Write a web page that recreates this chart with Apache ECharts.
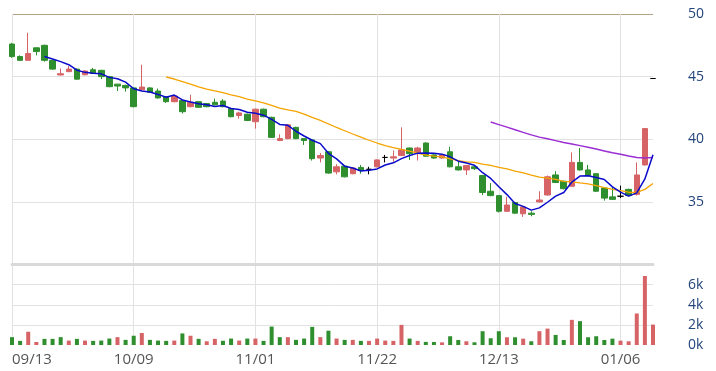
<!DOCTYPE html>
<html>
<head>
<meta charset="utf-8">
<script src="https://cdn.jsdelivr.net/npm/echarts@6/dist/echarts.min.js"></script>
<style>
html,body{margin:0;padding:0;background:#fff;}
#chart{width:716px;height:371px;}
</style>
</head>
<body>
<div id="chart"></div>
<script>
const dates = ['09/13','09/16','09/17','09/18','09/19','09/20','09/23','09/24','09/25','09/26','09/27','09/30','10/01','10/02','10/03',
'10/09','10/14','10/15','10/16','10/17','10/18','10/21','10/22','10/23','10/24','10/25','10/28','10/29','10/30','10/31',
'11/01','11/04','11/05','11/06','11/07','11/08','11/11','11/12','11/13','11/14','11/15','11/18','11/19','11/20','11/21',
'11/22','11/25','11/26','11/27','11/28','11/29','12/02','12/03','12/04','12/05','12/06','12/09','12/10','12/11','12/12',
'12/13','12/16','12/17','12/18','12/19','12/20','12/23','12/24','12/25','12/26','12/27','12/30','12/31','01/02','01/03',
'01/06','01/07','01/08','01/09','01/10'];

const opens = [47.6,46.6,46.3,47.3,47.5,46.3,45.13,45.4,45.6,45.15,45.55,45.5,45.0,44.4,44.3,
44.1,43.95,44.1,43.85,43.4,43.0,43.1,42.6,43.0,42.85,42.95,43.05,42.45,41.9,42.0,
41.4,42.4,41.75,39.9,40.05,40.95,40.05,39.95,38.5,39.0,37.4,37.85,37.25,37.75,37.6,
37.8,38.55,38.5,38.7,39.3,38.9,39.7,38.75,38.5,39.0,37.8,37.55,37.8,37.1,35.85,
35.5,34.25,34.95,34.05,34.1,35.0,35.55,37.15,36.65,36.25,38.15,37.55,37.25,36.1,35.4,
35.45,36.0,35.6,37.95,44.85];
const closes = [46.6,46.3,46.85,47.0,46.3,45.6,45.23,45.6,44.8,45.45,45.25,45.0,44.2,44.25,44.1,
42.6,44.17,43.75,43.3,43.0,43.45,42.2,42.95,42.55,42.6,42.75,42.6,41.8,42.1,41.5,
42.4,41.8,40.15,40.05,41.15,40.05,39.9,38.45,38.7,37.3,37.8,37.0,37.7,37.5,37.6,
38.35,38.55,38.6,39.15,38.85,39.3,38.65,38.5,38.75,37.8,37.55,37.9,37.65,35.75,35.5,
34.25,34.75,34.1,34.6,34.0,35.15,37.0,36.55,36.05,38.15,37.55,37.1,35.85,35.3,35.2,
35.45,35.5,37.15,40.85,44.85];
const lows = [46.5,46.25,46.3,46.7,46.2,45.55,45.1,45.35,44.75,45.1,45.2,44.8,44.15,43.85,43.8,
42.55,43.9,43.7,43.25,42.9,42.95,42.05,42.55,42.5,42.55,42.7,42.55,41.75,41.65,41.45,
40.85,41.75,40.1,39.85,40.0,40.0,39.55,38.3,38.15,37.25,37.2,36.95,37.2,37.25,37.2,
37.75,38.15,38.2,38.65,38.35,38.3,38.6,38.45,38.45,37.75,37.5,37.15,37.55,35.55,35.45,
34.15,34.2,34.05,33.8,33.85,34.95,35.5,36.5,36.0,36.2,37.5,37.05,35.8,35.1,35.15,
35.3,35.45,35.5,37.9,44.85];
const highs = [47.7,46.7,48.5,47.35,47.55,46.35,45.65,45.85,45.65,45.5,45.7,45.55,45.05,44.4,44.35,
44.15,45.95,44.15,44.05,43.45,43.5,43.15,43.55,43.05,42.9,43.25,43.2,42.5,42.2,42.05,
42.45,42.45,41.8,40.4,41.2,41.0,40.1,40.0,38.9,39.05,38.0,37.9,37.75,37.95,37.8,
38.4,38.75,39.1,40.95,39.35,39.4,39.75,38.8,38.8,39.4,38.35,37.95,37.9,37.15,36.5,
35.55,35.4,35.0,34.65,34.25,35.85,37.1,37.45,36.7,38.95,39.3,37.95,37.3,36.15,36.2,
36.3,36.05,38.15,40.9,44.85];
const volumes = [780,410,1320,300,610,610,780,440,610,440,410,440,640,780,510,
920,1190,510,440,410,440,1150,920,610,370,610,420,640,440,640,
640,410,1830,780,780,510,640,1800,780,1420,640,510,510,410,410,
640,440,410,2000,640,410,310,300,260,870,500,370,270,1370,670,
1370,770,770,630,370,1370,1630,1000,500,2500,2370,770,870,500,630,
430,370,3130,6860,2030];
const ma5 = [null,null,null,null,46.61,46.41,46.20,45.95,45.51,45.34,45.27,45.22,44.94,44.83,44.56,
44.03,43.86,43.77,43.58,43.36,43.53,43.14,42.98,42.83,42.75,42.61,42.69,42.46,42.37,42.15,
42.08,41.92,41.59,41.18,41.11,40.64,40.26,39.92,39.65,38.88,38.43,37.85,37.70,37.46,37.52,
37.63,37.94,38.12,38.45,38.70,38.89,38.91,38.89,38.81,38.60,38.25,38.10,37.93,37.33,36.87,
36.21,35.58,34.87,34.64,34.34,34.52,34.97,35.46,35.75,36.58,37.06,37.08,36.94,36.79,36.20,
35.78,35.46,35.72,36.83,38.76];
const ma20 = [null,null,null,null,null,null,null,null,null,null,null,null,null,null,null,
null,null,null,null,44.97,44.81,44.61,44.41,44.19,44.00,43.86,43.73,43.54,43.40,43.21,
43.06,42.90,42.70,42.49,42.34,42.22,42.00,41.74,41.51,41.22,40.94,40.68,40.42,40.17,39.92,
39.70,39.49,39.33,39.19,39.05,38.90,38.74,38.66,38.59,38.43,38.30,38.20,38.16,38.01,37.92,
37.75,37.63,37.45,37.31,37.13,36.97,36.89,36.79,36.63,36.60,36.51,36.43,36.30,36.13,36.00,
35.89,35.77,35.75,36.00,36.47];
const ma60 = [null,null,null,null,null,null,null,null,null,null,null,null,null,null,null,
null,null,null,null,null,null,null,null,null,null,null,null,null,null,null,
null,null,null,null,null,null,null,null,null,null,null,null,null,null,null,
null,null,null,null,null,null,null,null,null,null,null,null,null,null,41.37,
41.17,40.97,40.76,40.55,40.35,40.17,40.04,39.89,39.74,39.62,39.49,39.36,39.22,39.07,38.92,
38.80,38.66,38.55,38.51,38.54];

const RED = '#d66466', GREEN = '#2f8f2f', DOJI = '#000000';

const candleData = dates.map((d, i) => {
  const item = { value: [opens[i], closes[i], lows[i], highs[i]] };
  if (opens[i] === closes[i]) {
    item.itemStyle = { color: DOJI, color0: DOJI, borderColor: DOJI, borderColor0: DOJI, borderColorDoji: DOJI };
  }
  return item;
});
const volData = volumes.map((v, i) => {
  const up = i === 0 ? closes[i] > opens[i] : closes[i] > closes[i - 1];
  return { value: v, itemStyle: { color: up ? RED : GREEN } };
});

const chart = echarts.init(document.getElementById('chart'), null, { renderer: 'canvas' });
const gridLine = '#e2e2e2';
chart.setOption({
  animation: false,
  textStyle: { fontFamily: 'Open Sans' },
  grid: [
    { left: 12, right: 63, top: 14, height: 250.5 },
    { left: 12, right: 63, top: 264.5, height: 80.5 }
  ],
  xAxis: [
    {
      type: 'category', gridIndex: 0, data: dates, boundaryGap: false,
      axisLine: { show: true, lineStyle: { color: '#d9d9d9', width: 3 } },
      axisTick: { show: false }, axisLabel: { show: false },
      splitLine: { show: true, interval: 14, lineStyle: { color: gridLine, width: 1 } }
    },
    {
      type: 'category', gridIndex: 1, data: dates, boundaryGap: false,
      axisLine: { show: false }, axisTick: { show: false },
      axisLabel: { interval: 14, color: '#555', fontSize: 15, margin: 7, alignMinLabel: 'left', fontFamily: 'Open Sans' },
      splitLine: { show: true, interval: 14, lineStyle: { color: gridLine, width: 1 } }
    }
  ],
  yAxis: [
    {
      type: 'value', gridIndex: 0, position: 'right', min: 30, max: 50, interval: 5,
      axisLine: { show: false }, axisTick: { show: false },
      axisLabel: { margin: 35, color: '#23457a', fontSize: 14, fontFamily: 'Open Sans',
        formatter: v => (v === 30 ? '' : String(v)) },
      splitLine: { show: true, lineStyle: { color: ['#d9d9d9', gridLine, gridLine, gridLine, '#b3a282'], width: 1 } }
    },
    {
      type: 'value', gridIndex: 1, position: 'right', min: 0, max: 8000, interval: 2000,
      axisLine: { show: false }, axisTick: { show: false },
      axisLabel: { margin: 35, color: '#23457a', fontSize: 14, fontFamily: 'Open Sans',
        formatter: v => (v === 8000 ? '' : (v / 1000) + 'k') },
      splitLine: { show: true, lineStyle: { color: ['rgba(0,0,0,0)', gridLine, gridLine, gridLine, '#d9d9d9'], width: 1 } }
    }
  ],
  series: [
    {
      type: 'candlestick', xAxisIndex: 0, yAxisIndex: 0, data: candleData,
      barWidth: 6, clip: false,
      itemStyle: { color: RED, color0: GREEN, borderColor: RED, borderColor0: GREEN, borderColorDoji: DOJI, borderWidth: 1 }
    },
    {
      type: 'line', xAxisIndex: 0, yAxisIndex: 0, data: ma20, showSymbol: false, symbol: 'none',
      lineStyle: { color: '#f5a300', width: 1.3 }
    },
    {
      type: 'line', xAxisIndex: 0, yAxisIndex: 0, data: ma60, showSymbol: false, symbol: 'none',
      lineStyle: { color: '#9a2ed2', width: 1.5 }
    },
    {
      type: 'line', xAxisIndex: 0, yAxisIndex: 0, data: ma5, showSymbol: false, symbol: 'none',
      lineStyle: { color: '#0a0acc', width: 1.5 }
    },
    {
      type: 'bar', xAxisIndex: 1, yAxisIndex: 1, data: volData, barWidth: 4
    }
  ]
});
</script>
</body>
</html>
